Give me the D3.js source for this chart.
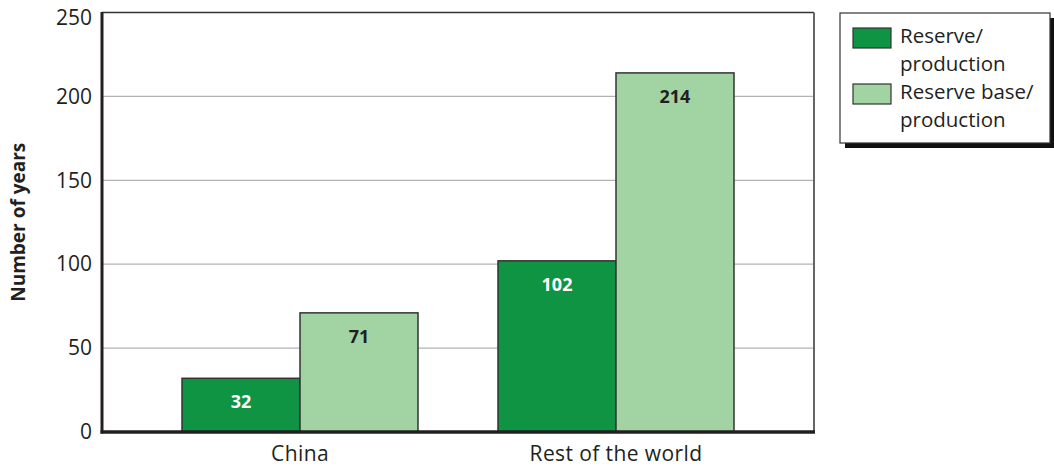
<!DOCTYPE html>
<html>
<head>
<meta charset="utf-8">
<script src="https://cdn.jsdelivr.net/npm/d3@7"></script>
<style>
  html, body { margin: 0; padding: 0; background: #fff; }
  svg { display: block; font-family: "Open Sans", "Noto Sans", sans-serif; }
</style>
</head>
<body>
<svg id="chart" width="1054" height="468"></svg>
<script>
// Years of coal supply at current production rates
const categories = ["China", "Rest of the world"];
const seriesNames = ["Reserve/production", "Reserve base/production"];
const legendLines = [["Reserve/", "production"], ["Reserve base/", "production"]];
const reserveProduction = [32, 102];
const reserveBaseProduction = [71, 214];
const yTicks = [0, 50, 100, 150, 200, 250];
const colors = ["#0f9444", "#a2d3a2"];
const labelColors = ["#ffffff", "#231f20"];

const svg = d3.select("#chart");
const plot = { left: 102, right: 814, top: 12.5, bottom: 432 };

const y = d3.scaleLinear().domain([0, 250]).range([plot.bottom, plot.top]);
const x0 = d3.scaleBand().domain(categories).range([plot.left, plot.right]).padding(0.2532);
const x1 = d3.scaleBand().domain(seriesNames).range([0, x0.bandwidth()]);

const series = [reserveProduction, reserveBaseProduction];
const rows = categories.map((c, i) => ({
  category: c,
  values: seriesNames.map((s, j) => ({ series: s, idx: j, value: series[j][i] }))
}));

// Horizontal gridlines
svg.append("g")
  .selectAll("line")
  .data(yTicks.filter(t => t > 0 && t < 250))
  .join("line")
  .attr("x1", plot.left).attr("x2", plot.right)
  .attr("y1", d => y(d)).attr("y2", d => y(d))
  .attr("stroke", "#b3b3b3").attr("stroke-width", 1.2);

// Plot frame: top and right edges
svg.append("line")
  .attr("x1", plot.left).attr("x2", plot.right)
  .attr("y1", y(250)).attr("y2", y(250))
  .attr("stroke", "#333").attr("stroke-width", 1.5);
svg.append("line")
  .attr("x1", plot.right).attr("x2", plot.right)
  .attr("y1", y(250)).attr("y2", plot.bottom)
  .attr("stroke", "#666").attr("stroke-width", 2);

// Bars
const groups = svg.append("g")
  .selectAll("g")
  .data(rows)
  .join("g")
  .attr("transform", d => `translate(${x0(d.category)},0)`);

groups.selectAll("rect")
  .data(d => d.values)
  .join("rect")
  .attr("x", d => x1(d.series))
  .attr("y", d => y(d.value))
  .attr("width", x1.bandwidth())
  .attr("height", d => y(0) - y(d.value))
  .attr("fill", d => colors[d.idx])
  .attr("stroke", "#333")
  .attr("stroke-width", 1.5);

groups.selectAll("text")
  .data(d => d.values)
  .join("text")
  .attr("x", d => x1(d.series) + x1.bandwidth() / 2)
  .attr("y", d => y(d.value) + 30)
  .attr("text-anchor", "middle")
  .attr("font-size", 18)
  .attr("font-weight", "bold")
  .attr("fill", d => labelColors[d.idx])
  .text(d => d.value);

// Y axis
const yAxis = svg.append("g")
  .attr("transform", `translate(${plot.left},0)`)
  .call(d3.axisLeft(y).tickValues(yTicks).tickSize(0).tickPadding(10));
yAxis.select(".domain").remove();
yAxis.selectAll("text")
  .attr("font-size", 21)
  .attr("fill", "#231f20")
  .attr("font-family", "'Open Sans', sans-serif");
// the top label sits just below the frame line so it stays inside the page
yAxis.selectAll(".tick")
  .filter(d => d === 250)
  .select("text")
  .attr("dy", "0.55em");
svg.append("line")
  .attr("x1", plot.left).attr("x2", plot.left)
  .attr("y1", y(250) - 0.5).attr("y2", plot.bottom + 1.5)
  .attr("stroke", "#231f20").attr("stroke-width", 3);

// X axis
const xAxis = svg.append("g")
  .attr("transform", `translate(0,${plot.bottom})`)
  .call(d3.axisBottom(x0).tickSize(0).tickPadding(14));
xAxis.select(".domain").remove();
xAxis.selectAll("text")
  .attr("font-size", 21)
  .attr("letter-spacing", 0.4)
  .attr("fill", "#231f20")
  .attr("font-family", "'Open Sans', sans-serif");
svg.append("line")
  .attr("x1", plot.left - 1.5).attr("x2", plot.right + 1)
  .attr("y1", plot.bottom).attr("y2", plot.bottom)
  .attr("stroke", "#231f20").attr("stroke-width", 3.5);

// Y axis title
svg.append("text")
  .attr("transform", `translate(25,${(plot.top + plot.bottom) / 2}) rotate(-90)`)
  .attr("text-anchor", "middle")
  .attr("font-size", 19)
  .attr("font-weight", "bold")
  .attr("fill", "#231f20")
  .text("Number of years");

// Legend
const legend = svg.append("g").attr("transform", "translate(840,13)");
legend.append("rect")
  .attr("x", 5).attr("y", 5).attr("width", 210).attr("height", 130)
  .attr("fill", "#111");
legend.append("rect")
  .attr("x", 0).attr("y", 0).attr("width", 210).attr("height", 130)
  .attr("fill", "#fff").attr("stroke", "#333").attr("stroke-width", 1.2);

const items = legend.selectAll("g.item")
  .data(seriesNames)
  .join("g")
  .attr("class", "item")
  .attr("transform", (d, i) => `translate(0,${i * 56})`);
items.append("rect")
  .attr("x", 13).attr("y", 15).attr("width", 38).attr("height", 20)
  .attr("fill", (d, i) => colors[i])
  .attr("stroke", "#333").attr("stroke-width", 1.2);
items.append("text")
  .attr("font-size", 20.5)
  .attr("fill", "#231f20")
  .selectAll("tspan")
  .data((d, i) => legendLines[i])
  .join("tspan")
  .attr("x", 60)
  .attr("y", (d, k) => 30 + k * 28)
  .text(d => d);
</script>
</body>
</html>
